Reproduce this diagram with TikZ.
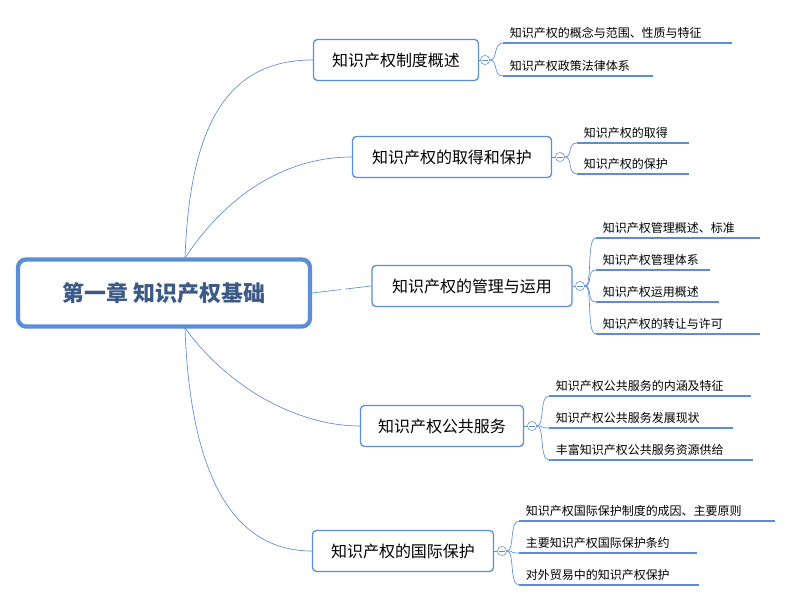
\documentclass[tikz,border=0pt]{standalone}
\usepackage{fontspec}
\setmainfont{Noto Sans CJK SC}
\usetikzlibrary{calc}
\definecolor{mapblue}{HTML}{5B8ED6}
\definecolor{rootink}{HTML}{3B5A86}
\tikzset{
  rootbox/.style={draw=mapblue, line width=3.2pt, rounded corners=6pt, fill=white,
    minimum width=292*0.0264cm, minimum height=67*0.0264cm,
    font=\fontsize{16.5}{18}\selectfont\bfseries, text=rootink},
  topicbox/.style={draw=mapblue, line width=1pt, rounded corners=3pt, fill=white,
    minimum height=41*0.0264cm, font=\fontsize{12}{14}\selectfont},
  fold/.style={draw=mapblue, line width=0.4pt, fill=white, circle, inner sep=0pt, minimum size=7pt,
    path picture={\draw[mapblue] ([xshift=-2pt]path picture bounding box.center) -- ([xshift=2pt]path picture bounding box.center);}},
  branchline/.style={draw=mapblue, line width=0.5pt},
  leafline/.style={draw=mapblue, line width=1.8pt},
  leaftext/.style={anchor=south west, font=\fontsize{9}{11}\selectfont, inner sep=1pt, xshift=4pt, yshift=2pt}
}
\begin{document}
\begin{tikzpicture}[x=0.0264cm, y=-0.0264cm]
    \useasboundingbox (0,0) rectangle (793,601);

    % root and topics
    \node[rootbox] (root) at (164,293) {第一章 知识产权基础};
    \node[topicbox, minimum width=165*0.0264cm] (t1) at (396,60) {知识产权制度概述};
    \node[topicbox, minimum width=199*0.0264cm] (t2) at (452,157) {知识产权的取得和保护};
    \node[topicbox, minimum width=200*0.0264cm] (t3) at (472,286) {知识产权的管理与运用};
    \node[topicbox, minimum width=163*0.0264cm] (t4) at (442,426) {知识产权公共服务};
    \node[topicbox, minimum width=181*0.0264cm] (t5) at (403,551) {知识产权的国际保护};

    % root connectors
    \coordinate (rt) at (185,258);
    \coordinate (rb) at (185,328);
    \draw[branchline] (rt) .. controls (190,120) and (230,60) .. (t1.west);
    \draw[branchline] (rt) .. controls (230,190) and (290,157) .. (t2.west);
    \draw[branchline, dash pattern=on 22pt off 3pt] (root.east) -- (t3.west);
    \draw[branchline] (rb) .. controls (230,390) and (300,426) .. (t4.west);
    \draw[branchline] (rb) .. controls (190,470) and (230,551) .. (t5.west);

    % fold markers
    \foreach \t/\x/\y in {t1/485/60, t2/560/157, t3/580/286, t4/532/426, t5/502/551}
      \node[fold] (f\t) at (\x,\y) {};
    \foreach \t in {t1,t2,t3,t4,t5}
      \draw[branchline] (\t.east) -- (f\t.west);

    % leaves
    \foreach \t/\n/\x/\y/\w/\txt in {
        t1/1/503/43/229/知识产权的概念与范围、性质与特征,
        t1/2/503/76/150/知识产权政策法律体系,
        t2/1/577/143/112/知识产权的取得,
        t2/2/577/174/112/知识产权的保护,
        t3/1/596/238/164/知识产权管理概述、标准,
        t3/2/596/270/114/知识产权管理体系,
        t3/3/596/302/123/知识产权运用概述,
        t3/4/596/334/164/知识产权的转让与许可,
        t4/1/549/396/202/知识产权公共服务的内涵及特征,
        t4/2/549/428/184/知识产权公共服务发展现状,
        t4/3/549/460/204/丰富知识产权公共服务资源供给,
        t5/1/519/521/256/知识产权国际保护制度的成因、主要原则,
        t5/2/519/553/178/主要知识产权国际保护条约,
        t5/3/519/585/180/对外贸易中的知识产权保护}{
      \coordinate (\t l\n) at (\x,\y);
      \draw[leafline] (\t l\n) -- ++(\w,0);
      \node[leaftext] (\t txt\n) at (\t l\n) {\txt};
      \draw[branchline] (f\t.east) .. controls ($(f\t.east)+(8,0)$) and ($(\t l\n)+(-10,0)$) .. (\t l\n);
    }
\end{tikzpicture}
\end{document}
